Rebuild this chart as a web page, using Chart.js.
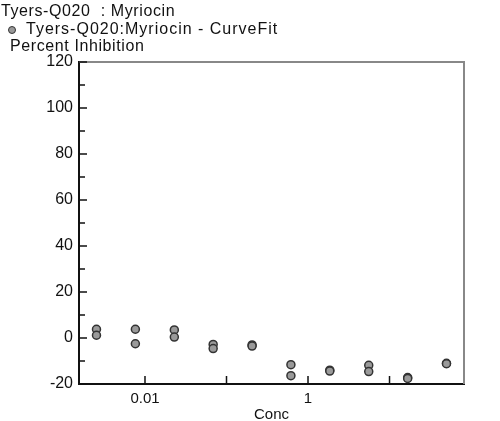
<!DOCTYPE html>
<html>
<head>
<meta charset="utf-8">
<script src="https://cdn.jsdelivr.net/npm/chart.js@4.4.1/dist/chart.umd.min.js"></script>
<style>
  html, body { margin: 0; padding: 0; background: #fff; }
  #wrap { position: relative; width: 500px; height: 421px; }
  #chart { position: absolute; left: 0; top: 0; }
  .lbl { position: absolute; font-family: "Liberation Sans", Arial, sans-serif; font-size: 16px; color: #111; white-space: pre; line-height: 18px; }
  #title { left: 1px; top: 2px; letter-spacing: 0.6px; }
  #legend { left: 26px; top: 20px; letter-spacing: 1px; }
  #legend-dot { position: absolute; left: 8px; top: 26px; width: 6px; height: 6px; border-radius: 50%; background: #999; border: 1.5px solid #333; }
  #ytitle { left: 10px; top: 37px; letter-spacing: 0.6px; }
</style>
</head>
<body>
<div id="wrap">
  <canvas id="chart" width="500" height="421"></canvas>
  <div class="lbl" id="title">Tyers-Q020  : Myriocin</div>
  <div id="legend-dot"></div>
  <div class="lbl" id="legend">Tyers-Q020:Myriocin - CurveFit</div>
  <div class="lbl" id="ytitle">Percent Inhibition</div>
</div>
<script>
// concentrations (3-fold dilution series) and the two replicates
const conc = [0.00254, 0.00762, 0.0229, 0.0686, 0.206, 0.617, 1.85, 5.56, 16.7, 50];
const repA = [3.8, 3.8, 3.5, -2.8, -3.0, -11.6, -14.0, -11.9, -17.2, -11.0];
const repB = [1.2, -2.5, 0.4, -4.6, -3.5, -16.4, -14.4, -14.6, -17.6, -11.2];

const xTicks = [0.01, 0.1, 1, 10];
const xLabels = { 0.01: '0.01', 1: '1' };
const yMin = -20, yMax = 120, yStep = 10;

const points = [
  ...conc.map((c, i) => ({ x: c, y: repA[i] })),
  ...conc.map((c, i) => ({ x: c, y: repB[i] }))
];

// tick marks drawn inward + gray top/right frame
const frameTicks = {
  id: 'frameTicks',
  afterDraw(chart) {
    const { ctx, chartArea: a, scales } = chart;
    ctx.save();
    ctx.strokeStyle = '#888';
    ctx.lineWidth = 2;
    ctx.beginPath();
    ctx.moveTo(a.left, a.top);
    ctx.lineTo(a.right, a.top);
    ctx.lineTo(a.right, a.bottom);
    ctx.stroke();

    ctx.strokeStyle = '#111';
    ctx.lineWidth = 1.5;
    ctx.beginPath();
    scales.y.ticks.forEach(t => {
      const py = scales.y.getPixelForValue(t.value);
      const len = t.value % 20 === 0 ? 8 : 6;
      ctx.moveTo(a.left, py);
      ctx.lineTo(a.left + len, py);
    });
    scales.x.ticks.forEach(t => {
      const px = scales.x.getPixelForValue(t.value);
      ctx.moveTo(px, a.bottom);
      ctx.lineTo(px, a.bottom - 8);
    });
    ctx.stroke();
    ctx.restore();
  }
};

Chart.defaults.font.family = '"Liberation Sans", Arial, sans-serif';
Chart.defaults.color = '#111';

new Chart(document.getElementById('chart'), {
  type: 'scatter',
  data: {
    datasets: [{
      label: 'Tyers-Q020:Myriocin - CurveFit',
      data: points,
      pointRadius: 4,
      pointHoverRadius: 4,
      backgroundColor: '#9a9a9a',
      borderColor: '#333',
      borderWidth: 1.5
    }]
  },
  options: {
    responsive: false,
    animation: false,
    layout: { padding: { top: 62, right: 36, left: 0, bottom: 0 } },
    plugins: {
      legend: { display: false },
      tooltip: { enabled: false }
    },
    scales: {
      x: {
        type: 'logarithmic',
        min: 0.00155,
        max: 82,
        afterBuildTicks: s => { s.ticks = xTicks.map(v => ({ value: v })); },
        afterFit: s => { s.height = 37; },
        ticks: {
          autoSkip: false,
          maxRotation: 0,
          padding: 6,
          font: { size: 15 },
          callback: v => xLabels[v] || ''
        },
        grid: { display: false, drawTicks: false },
        border: { display: true, color: '#111', width: 2 },
        title: { display: true, text: 'Conc', font: { size: 15 }, padding: { top: 0, bottom: -3 } }
      },
      y: {
        min: yMin,
        max: yMax,
        afterFit: s => { s.width = 79; },
        ticks: {
          stepSize: yStep,
          padding: 6,
          font: { size: 16 },
          callback: v => (v % 20 === 0 ? v : '')
        },
        grid: { display: false, drawTicks: false },
        border: { display: true, color: '#111', width: 2 }
      }
    }
  },
  plugins: [frameTicks]
});
</script>
</body>
</html>
